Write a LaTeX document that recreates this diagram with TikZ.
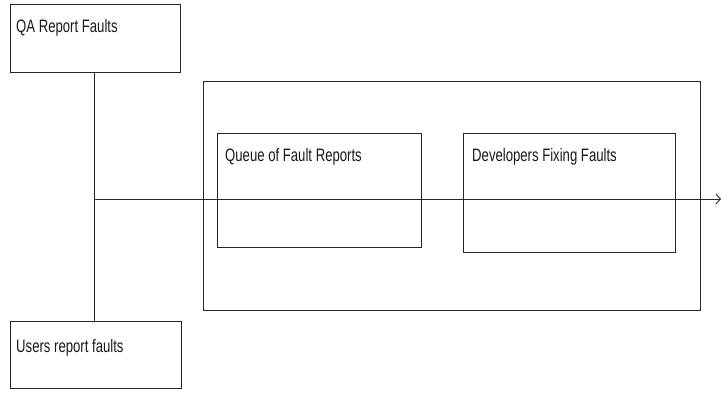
\documentclass[tikz,border=0pt]{standalone}
\usepackage{fontspec}
\setmainfont{Liberation Sans}[FakeStretch=0.73]
\usetikzlibrary{arrows.meta}
\begin{document}
\begin{tikzpicture}[x=1pt,y=-1pt,
  box/.style={draw=black!85,line width=0.9pt,rectangle,anchor=north west,inner sep=0pt},
  lbl/.style={anchor=base west,inner sep=0pt,font=\fontsize{18}{20}\selectfont,text=black!90},
  conn/.style={draw=black!85,line width=0.9pt}]
\useasboundingbox (0,0) rectangle (722,392);
\node[box,minimum width=170pt,minimum height=68pt] (qa) at (10,4) {};
\node[box,minimum width=171pt,minimum height=67pt] (users) at (10,321) {};
\node[box,minimum width=497pt,minimum height=229pt] (outer) at (203,81) {};
\node[box,minimum width=204pt,minimum height=114pt] (queue) at (217,133) {};
\node[box,minimum width=212pt,minimum height=119pt] (dev) at (463,133) {};
\node[lbl] (qat) at ([xshift=6pt,yshift=-28.5pt]qa.north west) {QA Report Faults};
\node[lbl] (userst) at ([xshift=6pt,yshift=-31pt]users.north west) {Users report faults};
\node[lbl] (queuet) at ([xshift=8pt,yshift=-28pt]queue.north west) {Queue of Fault Reports};
\node[lbl] (devt) at ([xshift=9pt,yshift=-28pt]dev.north west) {Developers Fixing Faults};
\coordinate (j) at (94,199);
\coordinate (e) at (721,199);
\draw[conn] (qa.south -| j) -- (users.north -| j);
\draw[conn,-{Straight Barb[length=4.5pt,width=10pt]}] (j) -- (e);
\end{tikzpicture}
\end{document}
